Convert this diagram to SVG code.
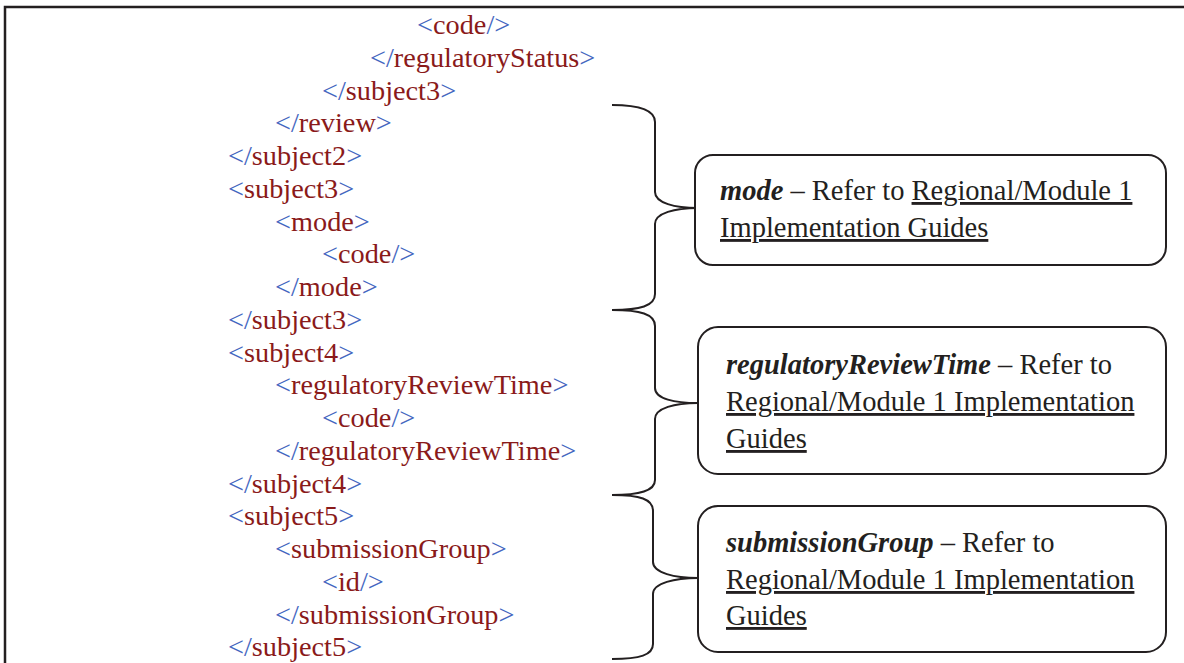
<svg xmlns="http://www.w3.org/2000/svg" width="1184" height="663" viewBox="0 0 1184 663">
<style>
.x{font-family:"Liberation Serif","Times New Roman",serif;font-size:28.3px}
.b{fill:#4466c0}
.r{fill:#8a1a1a}
.t{font-family:"Liberation Serif","Times New Roman",serif;font-size:28.5px;fill:#231f20}
.bi{font-weight:bold;font-style:italic}
.u{text-decoration:underline}
.box{fill:#fff;stroke:#231f20;stroke-width:2}
.brace{fill:none;stroke:#231f20;stroke-width:2}
</style>
<rect width="1184" height="663" fill="#fff"/>
<g id="frame" fill="none" stroke="#231f20" stroke-width="2.5">
<path d="M5,663 L5,7 L1184,7"/>
</g>
<g id="xml" class="x">
<text x="417" y="34"><tspan class="b">&lt;</tspan><tspan class="r">code</tspan><tspan class="b">/&gt;</tspan></text>
<text x="370" y="66.75"><tspan class="b">&lt;/</tspan><tspan class="r">regulatoryStatus</tspan><tspan class="b">&gt;</tspan></text>
<text x="322" y="99.5"><tspan class="b">&lt;/</tspan><tspan class="r">subject3</tspan><tspan class="b">&gt;</tspan></text>
<text x="275" y="132.25"><tspan class="b">&lt;/</tspan><tspan class="r">review</tspan><tspan class="b">&gt;</tspan></text>
<text x="228" y="165"><tspan class="b">&lt;/</tspan><tspan class="r">subject2</tspan><tspan class="b">&gt;</tspan></text>
<text x="228" y="197.75"><tspan class="b">&lt;</tspan><tspan class="r">subject3</tspan><tspan class="b">&gt;</tspan></text>
<text x="275" y="230.5"><tspan class="b">&lt;</tspan><tspan class="r">mode</tspan><tspan class="b">&gt;</tspan></text>
<text x="322" y="263.25"><tspan class="b">&lt;</tspan><tspan class="r">code</tspan><tspan class="b">/&gt;</tspan></text>
<text x="275" y="296"><tspan class="b">&lt;/</tspan><tspan class="r">mode</tspan><tspan class="b">&gt;</tspan></text>
<text x="228" y="328.75"><tspan class="b">&lt;/</tspan><tspan class="r">subject3</tspan><tspan class="b">&gt;</tspan></text>
<text x="228" y="361.5"><tspan class="b">&lt;</tspan><tspan class="r">subject4</tspan><tspan class="b">&gt;</tspan></text>
<text x="275" y="394.25"><tspan class="b">&lt;</tspan><tspan class="r">regulatoryReviewTime</tspan><tspan class="b">&gt;</tspan></text>
<text x="322" y="427"><tspan class="b">&lt;</tspan><tspan class="r">code</tspan><tspan class="b">/&gt;</tspan></text>
<text x="275" y="459.75"><tspan class="b">&lt;/</tspan><tspan class="r">regulatoryReviewTime</tspan><tspan class="b">&gt;</tspan></text>
<text x="228" y="492.5"><tspan class="b">&lt;/</tspan><tspan class="r">subject4</tspan><tspan class="b">&gt;</tspan></text>
<text x="228" y="525.25"><tspan class="b">&lt;</tspan><tspan class="r">subject5</tspan><tspan class="b">&gt;</tspan></text>
<text x="275" y="558"><tspan class="b">&lt;</tspan><tspan class="r">submissionGroup</tspan><tspan class="b">&gt;</tspan></text>
<text x="322" y="590.75"><tspan class="b">&lt;</tspan><tspan class="r">id</tspan><tspan class="b">/&gt;</tspan></text>
<text x="275" y="623.5"><tspan class="b">&lt;/</tspan><tspan class="r">submissionGroup</tspan><tspan class="b">&gt;</tspan></text>
<text x="228" y="656.25"><tspan class="b">&lt;/</tspan><tspan class="r">subject5</tspan><tspan class="b">&gt;</tspan></text>
</g>
<g id="connectors">
<path class="brace" d="M612,105 C640,105 655,110 655,122 L655,192 C655,203 675,208 698,208 C675,208 655,213 655,224 L655,294 C655,306 640,310 612,310"/>
<path class="brace" d="M612,310 C640,310 655,314 655,326 L655,388 C655,399 675,403 698,403 C675,403 655,408 655,419 L655,480 C655,491 640,495 612,495"/>
<path class="brace" d="M612,495 C640,495 653,499 653,511 L653,562 C653,573 675,578 698,578 C675,578 653,583 653,594 L653,644 C653,655 640,659 612,659"/>
</g>
<g id="note-mode">
<rect class="box" x="695" y="155" width="471" height="110" rx="18"/>
<text class="t" x="720" y="200"><tspan class="bi">mode</tspan> – Refer to <tspan class="u">Regional/Module 1</tspan></text>
<text class="t" x="720" y="237"><tspan class="u">Implementation Guides</tspan></text>
</g>
<g id="note-regulatoryReviewTime">
<rect class="box" x="698" y="327" width="468" height="147" rx="20"/>
<text class="t" x="726" y="374"><tspan class="bi">regulatoryReviewTime</tspan> – Refer to</text>
<text class="t" x="726" y="411"><tspan class="u">Regional/Module 1 Implementation</tspan></text>
<text class="t" x="726" y="448"><tspan class="u">Guides</tspan></text>
</g>
<g id="note-submissionGroup">
<rect class="box" x="698" y="506" width="468" height="146" rx="20"/>
<text class="t" x="726" y="552"><tspan class="bi">submissionGroup</tspan> – Refer to</text>
<text class="t" x="726" y="589"><tspan class="u">Regional/Module 1 Implementation</tspan></text>
<text class="t" x="726" y="625"><tspan class="u">Guides</tspan></text>
</g>
</svg>
